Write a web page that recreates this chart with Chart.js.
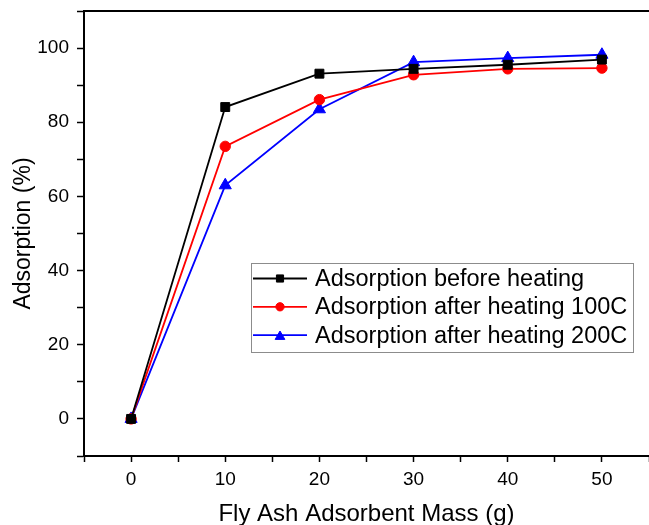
<!DOCTYPE html>
<html><head><meta charset="utf-8">
<script src="https://cdn.jsdelivr.net/npm/chart.js@4/dist/chart.umd.min.js"></script>
<style>html,body{margin:0;padding:0;background:#fff}#wrap{width:649px;height:525px;position:relative}</style>
</head><body><div id="wrap"><canvas id="c" width="649" height="525"></canvas></div>
<script>
const masses = [0, 10, 20, 30, 40, 50];
const beforeHeating = [0, 84.1, 93.1, 94.4, 95.5, 96.9];
const after100C = [0, 73.5, 86.1, 92.8, 94.4, 94.6];
const after200C = [0, 63.0, 83.5, 96.2, 97.3, 98.2];
const seriesLabels = ['Adsorption before heating', 'Adsorption after heating 100C', 'Adsorption after heating 200C'];
const xTickLabels = [0, 10, 20, 30, 40, 50];
const yTickLabels = [0, 20, 40, 60, 80, 100];
const xTitle = 'Fly Ash Adsorbent Mass (g)';
const yTitle = 'Adsorption (%)';

const FONT = '"Liberation Sans", Arial, sans-serif';
const toPts = arr => masses.map((m, i) => ({x: m, y: arr[i]}));

const frame = {
  id: 'frame',
  afterDraw(chart) {
    const {ctx, chartArea: a} = chart;
    ctx.save();
    ctx.strokeStyle = '#000'; ctx.lineWidth = 2;
    ctx.beginPath(); ctx.moveTo(a.left - 1, a.top); ctx.lineTo(a.right + 2, a.top); ctx.stroke();
    // legend box
    const bx = 251, by = 263, bw = 382, bh = 89;
    ctx.fillStyle = '#fff'; ctx.fillRect(bx, by, bw, bh);
    ctx.lineWidth = 1; ctx.strokeStyle = '#8c8c8c';
    ctx.strokeRect(bx + 0.5, by + 0.5, bw, bh);
    chart.data.datasets.forEach((ds, i) => {
      const cy = 278.5 + i * 28.3;
      ctx.strokeStyle = ds.borderColor; ctx.lineWidth = 1.8;
      ctx.beginPath(); ctx.moveTo(253, cy); ctx.lineTo(307, cy); ctx.stroke();
      ctx.fillStyle = ds.backgroundColor; ctx.strokeStyle = ds.borderColor; ctx.lineWidth = 1;
      Chart.helpers.drawPoint(ctx, {pointStyle: ds.pointStyle, rotation: 0, radius: ds.pointRadius * 0.8, borderWidth: 1}, 280, cy + (ds.pointStyle === 'triangle' ? 1.5 : 0));
      ctx.fillStyle = '#000';
      ctx.font = '23.5px ' + FONT;
      ctx.textBaseline = 'middle'; ctx.textAlign = 'left';
      ctx.fillText(ds.label, 315, cy + 1);
    });
    ctx.restore();
  }
};

new Chart(document.getElementById('c'), {
  type: 'line',
  data: {
    datasets: [
      {label: seriesLabels[0], data: toPts(beforeHeating), borderColor: '#000000', backgroundColor: '#000000', pointStyle: 'rect', pointRadius: 6.3, borderWidth: 1.8, pointBorderWidth: 1},
      {label: seriesLabels[1], data: toPts(after100C), borderColor: '#ff0000', backgroundColor: '#ff0000', pointStyle: 'circle', pointRadius: 5.2, borderWidth: 1.8, pointBorderWidth: 1},
      {label: seriesLabels[2], data: toPts(after200C), borderColor: '#0000ff', backgroundColor: '#0000ff', pointStyle: 'triangle', pointRadius: 7, borderWidth: 1.8, pointBorderWidth: 1}
    ]
  },
  options: {
    responsive: false,
    animation: false,
    layout: {autoPadding: false, padding: {top: 11, right: -3, left: 0, bottom: 0}},
    plugins: {legend: {display: false}, tooltip: {enabled: false}},
    scales: {
      x: {
        type: 'linear', min: -5, max: 55,
        afterFit: s => { s.height = 69; s.paddingLeft = 0; s.paddingRight = 0; },
        border: {display: true, color: '#000', width: 2},
        grid: {display: true, drawOnChartArea: false, drawTicks: true, tickLength: 6, tickColor: '#000', tickWidth: 1.5},
        ticks: {
          stepSize: 5, padding: 6, color: '#000', font: {family: FONT, size: 19},
          autoSkip: false, maxRotation: 0,
          callback: v => xTickLabels.includes(v) ? String(v) : ''
        },
        title: {display: true, text: xTitle, color: '#000', font: {family: FONT, size: 24}, padding: {top: 0, bottom: -4}}
      },
      y: {
        type: 'linear', min: -10, max: 110,
        afterFit: s => { s.width = 84; s.paddingTop = 0; s.paddingBottom = 0; },
        border: {display: true, color: '#000', width: 2},
        grid: {display: true, drawOnChartArea: false, drawTicks: true, tickLength: 7, tickColor: '#000', tickWidth: 1.5},
        ticks: {
          stepSize: 10, padding: 8, color: '#000', font: {family: FONT, size: 19},
          autoSkip: false,
          callback: v => yTickLabels.includes(v) ? String(v) : ''
        },
        title: {display: true, text: yTitle, color: '#000', font: {family: FONT, size: 23}, padding: {top: 9.5, bottom: 0}}
      }
    }
  },
  plugins: [frame]
});
</script>
</body></html>
